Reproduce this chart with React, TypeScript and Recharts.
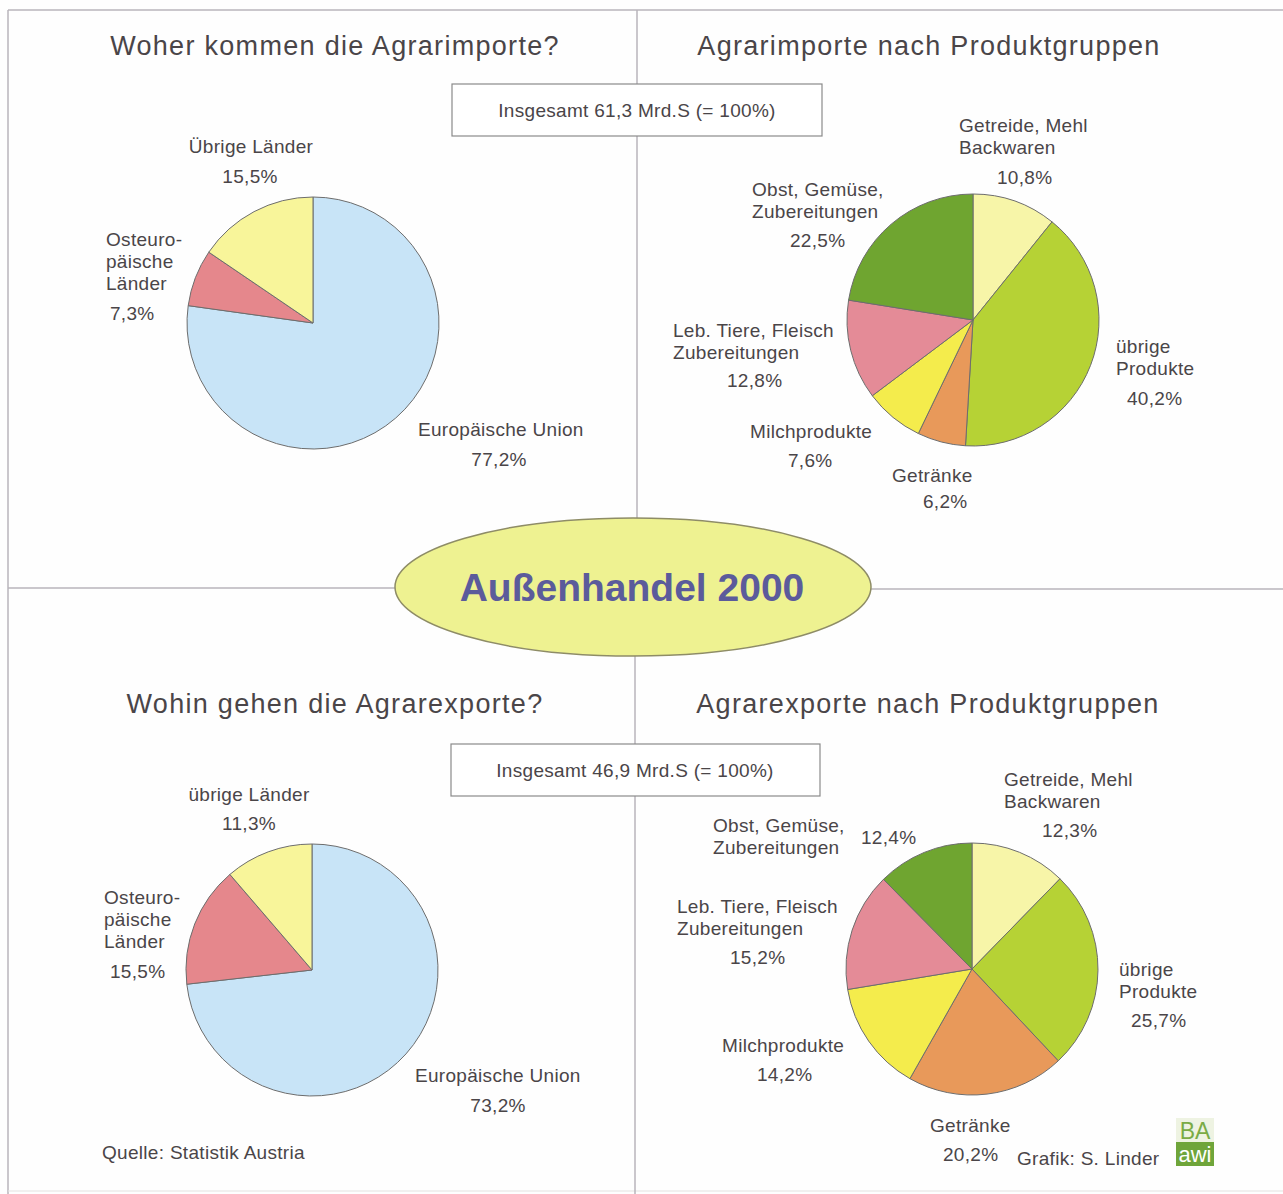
import { PieChart, Pie, Cell } from "recharts";

// --- data ---
const importOriginNames = ["Europäische Union", "Osteuropäische Länder", "Übrige Länder"];
const importOriginValues = [77.2, 7.3, 15.5];
const exportDestNames = ["Europäische Union", "Osteuropäische Länder", "übrige Länder"];
const exportDestValues = [73.2, 15.5, 11.3];

const productNames = [
  "Getreide, Mehl Backwaren",
  "übrige Produkte",
  "Getränke",
  "Milchprodukte",
  "Leb. Tiere, Fleisch Zubereitungen",
  "Obst, Gemüse, Zubereitungen",
];
const importProductValues = [10.8, 40.2, 6.2, 7.6, 12.8, 22.5];
const exportProductValues = [12.3, 25.7, 20.2, 14.2, 15.2, 12.4];

const importTotal = "61,3";
const exportTotal = "46,9";

// --- styling ---
const originColors = ["#c8e4f7", "#e5878c", "#f8f59a"];
const productColors = ["#f7f5a8", "#b6d235", "#e8995a", "#f4ec4c", "#e48b97", "#6fa530"];
const TEXT = "#4a4548";
const FONT = "'Liberation Sans', Arial, sans-serif";
const LINE = "#b8b4bb";
const LS = 0.3; // label letter spacing

const toRows = (names: string[], values: number[]) =>
  names.map((name, i) => ({ name, value: values[i] }));
const pct = (v: number) => v.toFixed(1).replace(".", ",") + "%";

type Lbl = { lines: string[]; x: number; y: number; a: "start" | "middle"; px: number; py: number; pa: "start" | "middle" };

const originLines = (first: string) => [["Europäische Union"], ["Osteuro-", "päische", "Länder"], [first]];
const productLines = [
  ["Getreide, Mehl", "Backwaren"],
  ["übrige", "Produkte"],
  ["Getränke"],
  ["Milchprodukte"],
  ["Leb. Tiere, Fleisch", "Zubereitungen"],
  ["Obst, Gemüse,", "Zubereitungen"],
];

const importOriginLayout: Lbl[] = [
  { lines: originLines("Übrige Länder")[0], x: 418, y: 429, a: "start", px: 499, py: 459, pa: "middle" },
  { lines: originLines("Übrige Länder")[1], x: 106, y: 239, a: "start", px: 110, py: 313, pa: "start" },
  { lines: originLines("Übrige Länder")[2], x: 251, y: 146, a: "middle", px: 250, py: 176, pa: "middle" },
];
const exportDestLayout: Lbl[] = [
  { lines: originLines("übrige Länder")[0], x: 415, y: 1075, a: "start", px: 498, py: 1105, pa: "middle" },
  { lines: originLines("übrige Länder")[1], x: 104, y: 897, a: "start", px: 110, py: 971, pa: "start" },
  { lines: originLines("übrige Länder")[2], x: 249, y: 794, a: "middle", px: 249, py: 823, pa: "middle" },
];
const importProductLayout: Lbl[] = [
  { lines: productLines[0], x: 959, y: 125, a: "start", px: 997, py: 177, pa: "start" },
  { lines: productLines[1], x: 1116, y: 346, a: "start", px: 1127, py: 398, pa: "start" },
  { lines: productLines[2], x: 892, y: 475, a: "start", px: 923, py: 501, pa: "start" },
  { lines: productLines[3], x: 750, y: 431, a: "start", px: 788, py: 460, pa: "start" },
  { lines: productLines[4], x: 673, y: 330, a: "start", px: 727, py: 380, pa: "start" },
  { lines: productLines[5], x: 752, y: 189, a: "start", px: 790, py: 240, pa: "start" },
];
const exportProductLayout: Lbl[] = [
  { lines: productLines[0], x: 1004, y: 779, a: "start", px: 1042, py: 830, pa: "start" },
  { lines: productLines[1], x: 1119, y: 969, a: "start", px: 1131, py: 1020, pa: "start" },
  { lines: productLines[2], x: 930, y: 1125, a: "start", px: 943, py: 1154, pa: "start" },
  { lines: productLines[3], x: 722, y: 1045, a: "start", px: 757, py: 1074, pa: "start" },
  { lines: productLines[4], x: 677, y: 906, a: "start", px: 730, py: 957, pa: "start" },
  { lines: productLines[5], x: 713, y: 825, a: "start", px: 861, py: 837, pa: "start" },
];

function Labels({ layout, values }: { layout: Lbl[]; values: number[] }) {
  return (
    <g fontFamily={FONT} fontSize={19} fill={TEXT} letterSpacing={LS}>
      {layout.map((l, i) => (
        <g key={i}>
          {l.lines.map((t, j) => (
            <text key={j} x={l.x} y={l.y + j * 22 + 7} textAnchor={l.a}>
              {t}
            </text>
          ))}
          <text x={l.px} y={l.py + 7} textAnchor={l.pa}>
            {pct(values[i])}
          </text>
        </g>
      ))}
    </g>
  );
}

function Background() {
  return (
    <svg width={1283} height={1194} style={{ position: "absolute", left: 0, top: 0 }}>
      <rect width={1283} height={1194} fill="#fefefe" />
      <line x1={8} y1={10} x2={1283} y2={10} stroke={LINE} strokeWidth={1.5} />
      <line x1={8} y1={10} x2={8} y2={1194} stroke={LINE} strokeWidth={1.5} />
      <line x1={8} y1={1191} x2={1283} y2={1191} stroke="#e4e2e0" strokeWidth={1} />
      <line x1={637} y1={10} x2={637} y2={520} stroke={LINE} strokeWidth={1.5} />
      <line x1={635} y1={654} x2={635} y2={1194} stroke={LINE} strokeWidth={1.5} />
      <line x1={8} y1={588} x2={398} y2={588} stroke={LINE} strokeWidth={1.5} />
      <line x1={868} y1={589} x2={1283} y2={589} stroke={LINE} strokeWidth={1.5} />

      <g fontFamily={FONT} fontSize={27} fill={TEXT} textAnchor="middle" letterSpacing={1.3}>
        <text x={335} y={55}>Woher kommen die Agrarimporte?</text>
        <text x={929} y={55}>Agrarimporte nach Produktgruppen</text>
        <text x={335} y={713}>Wohin gehen die Agrarexporte?</text>
        <text x={928} y={713}>Agrarexporte nach Produktgruppen</text>
      </g>

      <rect x={452} y={84} width={370} height={52} fill="#ffffff" stroke="#8a8a8a" strokeWidth={1.2} />
      <text x={637} y={117} fontFamily={FONT} fontSize={19} letterSpacing={LS} fill={TEXT} textAnchor="middle">
        {`Insgesamt ${importTotal} Mrd.S (= 100%)`}
      </text>
      <rect x={451} y={744} width={369} height={52} fill="#ffffff" stroke="#8a8a8a" strokeWidth={1.2} />
      <text x={635} y={777} fontFamily={FONT} fontSize={19} letterSpacing={LS} fill={TEXT} textAnchor="middle">
        {`Insgesamt ${exportTotal} Mrd.S (= 100%)`}
      </text>

      <ellipse cx={633} cy={587} rx={238} ry={69} fill="#eef291" stroke="#8e8c66" strokeWidth={1.5} />
      <text x={632} y={601} fontFamily={FONT} fontSize={39} fontWeight="bold" fill="#5b5b9b" textAnchor="middle">
        Außenhandel 2000
      </text>

      <Labels layout={importOriginLayout} values={importOriginValues} />
      <Labels layout={exportDestLayout} values={exportDestValues} />
      <Labels layout={importProductLayout} values={importProductValues} />
      <Labels layout={exportProductLayout} values={exportProductValues} />

      <g fontFamily={FONT} fontSize={19} fill={TEXT} letterSpacing={LS}>
        <text x={102} y={1159}>Quelle: Statistik Austria</text>
        <text x={1017} y={1165}>Grafik: S. Linder</text>
      </g>

      <rect x={1176} y={1118} width={38} height={24} fill="#eef3e2" />
      <text x={1195} y={1139} fontFamily={FONT} fontSize={23} fill="#7aab45" textAnchor="middle">
        BA
      </text>
      <rect x={1176} y={1142} width={38} height={24} fill="#6fa53a" />
      <text x={1195} y={1162} fontFamily={FONT} fontSize={22} fill="#ffffff" textAnchor="middle">
        awi
      </text>
    </svg>
  );
}

function Slices({ values, names, colors, cx, cy }: { values: number[]; names: string[]; colors: string[]; cx: number; cy: number }) {
  return (
    <Pie
      data={toRows(names, values)}
      dataKey="value"
      nameKey="name"
      cx={cx}
      cy={cy}
      outerRadius={126}
      startAngle={90}
      endAngle={-270}
      stroke="#6d6d6d"
      strokeWidth={1}
      isAnimationActive={false}
    >
      {values.map((_, i) => (
        <Cell key={i} fill={colors[i]} />
      ))}
    </Pie>
  );
}

export default function App() {
  return (
    <div style={{ position: "absolute", left: 0, top: 0, width: 1283, height: 1194 }}>
      <Background />
      <div style={{ position: "absolute", left: 0, top: 0 }}>
        <PieChart width={1283} height={1194} margin={{ top: 0, right: 0, bottom: 0, left: 0 }}>
          {Slices({ values: importOriginValues, names: importOriginNames, colors: originColors, cx: 313, cy: 323 })}
          {Slices({ values: importProductValues, names: productNames, colors: productColors, cx: 973, cy: 320 })}
          {Slices({ values: exportDestValues, names: exportDestNames, colors: originColors, cx: 312, cy: 970 })}
          {Slices({ values: exportProductValues, names: productNames, colors: productColors, cx: 972, cy: 969 })}
        </PieChart>
      </div>
    </div>
  );
}
